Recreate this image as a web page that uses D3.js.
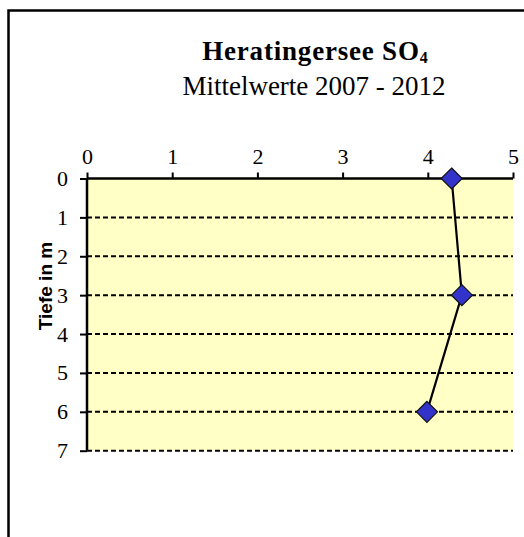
<!DOCTYPE html>
<html><head><meta charset="utf-8">
<script src="https://cdn.jsdelivr.net/npm/d3@7"></script>
<style>body{margin:0;background:#fff}svg{display:block}
.tk text{font-family:'Liberation Serif','Times New Roman',serif !important;font-size:22px !important;fill:#000}</style>
</head><body>
<script>
const depths = [0, 3, 6];
const values = [4.28, 4.4, 3.99];
const xTicks = [0, 1, 2, 3, 4, 5];
const yTicks = [0, 1, 2, 3, 4, 5, 6, 7];
const title = "Heratingersee SO";
const titleSub = "4";
const subtitle = "Mittelwerte 2007 - 2012";
const yLabel = "Tiefe in m";

const W = 524, H = 537;
const serif = "'Liberation Serif', 'Times New Roman', serif";
const svg = d3.select("body").append("svg").attr("width", W).attr("height", H);

// outer frame
svg.append("path").attr("d", `M8.5,${H} V10.5 H${W}`).attr("fill","none").attr("stroke","#000").attr("stroke-width",2.5);

const x = d3.scaleLinear().domain([0,5]).range([87, 513]);
const y = d3.scaleLinear().domain([0,7]).range([178.5, 450.7]);

svg.append("rect").attr("x", x(0)).attr("y", y(0)).attr("width", x(5)-x(0)).attr("height", y(7)-y(0)).attr("fill", "#FFFFC6");

// gridlines
svg.append("g").selectAll("line").data(yTicks.filter(d=>d>0)).join("line")
  .attr("x1", x(0)).attr("x2", x(5)).attr("y1", d=>y(d)).attr("y2", d=>y(d))
  .attr("stroke","#000").attr("stroke-width",2).attr("stroke-dasharray","5,3");

// x axis (top)
const gx = svg.append("g").attr("class","tk").attr("transform", `translate(0,${y(0)})`)
  .call(d3.axisTop(x).tickValues(xTicks).tickFormat(d3.format("d")).tickSize(6).tickPadding(9));
gx.attr("font-family", serif).attr("font-size", 22);
gx.select(".domain").attr("stroke-width",2.5).attr("d", `M${x(0)},0H${x(5)}`);
gx.selectAll(".tick line").attr("stroke-width",2);

// y axis (left)
const gy = svg.append("g").attr("class","tk").attr("transform", `translate(${x(0)},0)`)
  .call(d3.axisLeft(y).tickValues(yTicks).tickFormat(d3.format("d")).tickSize(7).tickPadding(12));
gy.attr("font-family", serif).attr("font-size", 22);
gy.select(".domain").attr("stroke-width",2.5).attr("d", `M0,${y(0)}V${y(7)}`);
gy.selectAll(".tick line").attr("stroke-width",2);

// y label
svg.append("text").attr("transform", `translate(52,286) rotate(-90)`)
  .attr("text-anchor","middle").style("font-family","'Liberation Sans', Arial, sans-serif")
  .style("font-weight","bold").style("font-size","19px").text(yLabel);

// line
const pts = depths.map((d,i)=>[values[i], d]);
svg.append("path").datum(pts)
  .attr("d", d3.line().x(d=>x(d[0])).y(d=>y(d[1])))
  .attr("fill","none").attr("stroke","#000").attr("stroke-width",2.2);

// markers
const s = 10.5;
svg.append("g").selectAll("path").data(pts).join("path")
  .attr("transform", d=>`translate(${x(d[0])},${y(d[1])})`)
  .attr("d", `M0,${-s}L${s},0L0,${s}L${-s},0Z`)
  .attr("fill","#3333CC").attr("stroke","#111").attr("stroke-width",1.2);

// titles
const t = svg.append("text").attr("x", 315).attr("y", 60).attr("text-anchor","middle")
  .style("font-family", serif).style("font-weight","bold").style("font-size","27px");
t.append("tspan").text(title).attr("letter-spacing", 0.8);
t.append("tspan").text(titleSub).style("font-size","16px").attr("dy",3);
svg.append("text").attr("x", 314).attr("y", 95).attr("text-anchor","middle")
  .style("font-family", serif).style("font-size","27px").text(subtitle);
</script>
</body></html>
